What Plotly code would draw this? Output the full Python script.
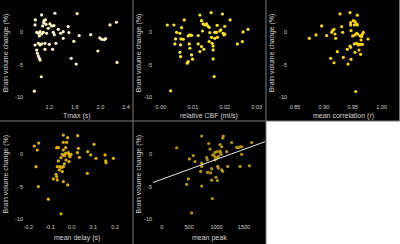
import plotly.graph_objects as go

# ---------------- data ----------------
tmax_x = [0.982, 0.977, 1.08, 1.288, 1.636, 1.117, 1.138, 1.112, 1.148, 1.096, 1.21, 1.236, 1.273, 1.184,
          1.003, 1.029, 1.055, 1.08, 1.044, 1.106, 1.158, 1.262, 1.278, 1.34, 1.377, 1.418, 1.496, 1.507,
          1.418, 1.668, 1.849, 0.977, 1.029, 1.055, 1.08, 1.132, 1.2, 1.304, 1.252, 1.132, 1.003, 1.013,
          1.029, 1.044, 1.055, 1.543, 1.621, 1.584, 1.99, 2.02, 2.06, 2.08, 1.96, 2.15, 2.25, 2.26, 1.075, 0.966]
tmax_y = [1.90, 1.13, 2.67, 2.92, 2.87, 1.79, 1.90, 1.49, 1.23, 0.97, 1.28, 0.97, 1.03, 0.62,
          0.0, -0.15, 0.10, -0.26, -0.56, 0.0, -0.15, 0.0, -0.36, 0.46, -0.15, 0.10, 0.87, -0.05,
          -0.92, -0.51, -0.36, -1.95, -1.69, -1.95, -1.79, -1.69, -1.85, -1.69, -2.62, -2.62, -2.72, -3.23,
          -3.64, -4.0, -4.26, -4.0, -4.87, -1.38, -0.87, -1.08, -1.13, -0.97, -2.87, 1.13, 1.54, -4.62, -6.82, -9.03]

cbf_x = [0.00198, 0.00406, 0.00729, 0.00646, 0.0049, 0.00594, 0.00458, 0.00625, 0.00438, 0.00615, 0.00698,
         0.00854, 0.00906, 0.00958, 0.00885, 0.00906, 0.00594, 0.00615, 0.00958, 0.0099, 0.00854, 0.00823,
         0.01219, 0.01573, 0.01927, 0.02167, 0.01271, 0.01323, 0.01375, 0.01427, 0.01469, 0.0176, 0.02,
         0.0151, 0.01167, 0.01302, 0.01531, 0.01583, 0.01688, 0.0174, 0.01844, 0.01875, 0.01948, 0.01979,
         0.02, 0.01688, 0.01604, 0.01635, 0.01635, 0.01167, 0.01271, 0.01219, 0.01344, 0.01635, 0.0151,
         0.02396, 0.02552, 0.02573, 0.02729, 0.01667, 0.00302, 0.01771]
cbf_y = [1.12, 1.12, 1.89, 0.71, 0.0, -0.15, -1.02, -1.02, -1.79, -1.94, -1.07,
         -0.56, -0.41, -0.46, -1.79, -2.45, -3.06, -3.72, -3.47, -4.13, -4.49, -4.74,
         2.65, 3.01, 2.81, 1.89, 1.79, 1.28, 1.12, 1.28, 0.97, 1.07, 0.92,
         0.77, -0.51, 0.2, -0.05, -0.77, 0.0, 0.0, 0.2, 0.36, -0.15, -0.41,
         -0.26, -0.92, -1.68, -2.09, -2.7, -1.79, -2.19, -2.96, -2.6, -4.08, -1.43,
         -1.79, -1.43, 0.05, 0.46, -6.79, -8.98, -0.77]

corr_x = [0.9279, 0.9452, 0.9578, 0.8961, 0.8863, 0.8748, 0.9048, 0.9152, 0.9175, 0.9134, 0.9192, 0.9204,
          0.9307, 0.9325, 0.9463, 0.9463, 0.9509, 0.9538, 0.9527, 0.9567, 0.9578, 0.9469, 0.9498, 0.9538,
          0.9567, 0.9584, 0.9625, 0.9682, 0.9665, 0.9653, 0.9763, 0.9642, 0.9636, 0.9567, 0.9596, 0.9613,
          0.9665, 0.9452, 0.9463, 0.9405, 0.9538, 0.9607, 0.9636, 0.9232, 0.9336, 0.9117, 0.9175, 0.9469,
          0.9417, 0.955, 0.9527]
corr_y = [2.82, 3.03, 2.62, 0.97, -0.41, -0.92, -0.51, 0.26, 0.46, 0.0, -0.26, -0.92,
          0.87, 0.0, 1.49, 1.13, 1.79, 1.64, 1.13, 1.28, 1.13, 0.26, -0.56, -0.41,
          -0.15, -0.26, -0.56, 0.0, -0.31, -0.67, -1.03, -1.18, -1.85, -1.69, -1.95, -1.85,
          -1.85, -2.10, -2.31, -2.62, -3.08, -2.72, -3.38, -2.97, -3.85, -4.0, -4.67, -4.15,
          -4.87, -9.08, -1.79]

delay_x = [-0.0385, 0.0277, -0.0185, -0.1523, -0.1723, -0.1585, -0.0385, -0.0231, -0.0692, -0.0615, -0.0277,
           0.0308, 0.1031, -0.0385, -0.0154, -0.0123, -0.0031, -0.0277, -0.0431, -0.0338, -0.0492, -0.0262,
           -0.0123, 0.0262, 0.0354, 0.0738, 0.0877, 0.1123, 0.1538, 0.1569, 0.1585, 0.1923, -0.0615, -0.0662,
           -0.0538, -0.0462, -0.0385, -0.0569, -0.0431, -0.0338, -0.1646, -0.0723, -0.0692, -0.0846, -0.0662,
           -0.0385, 0.0723, -0.0185, -0.1538, -0.1077, -0.0492, -0.0077]
delay_y = [2.99, 2.89, 2.58, 1.75, 1.29, 0.67, 1.86, 1.86, 1.03, 1.03, 1.03,
           0.93, 1.55, 0.67, 0.26, -0.10, 0.0, 0.15, 0.0, -0.21, -0.52, -0.88,
           -1.13, 0.26, -0.46, 0.41, -0.10, -0.62, -0.10, -1.03, -1.29, -0.62, -1.03, -1.91,
           -1.91, -2.06, -1.91, -2.42, -2.68, -1.49, -1.91, -3.09, -3.45, -3.81, -3.97,
           -4.23, -2.94, -4.74, -5.0, -6.96, -9.23, -0.36]

peak_x = [729, 1124, 1112, 273, 857, 1063, 1276, 1094, 1367, 1397, 1428, 1458, 1640, 577, 504, 608, 729,
          820, 832, 881, 930, 954, 978, 1015, 1033, 1015, 1063, 1075, 1081, 972, 1185, 1458, 972, 1021,
          1033, 1094, 1112, 1203, 911, 893, 729, 711, 838, 990, 1015, 911, 486, 456, 729, 923, 547, 1428, 1598]
peak_y = [2.84, 2.84, 2.54, 1.02, 1.68, 1.52, 1.83, 1.17, 1.07, 1.02, 1.17, 1.17, 1.83, -0.20, -0.71, -1.12, -1.37,
          -0.51, -0.86, 0.81, -0.10, -0.20, -0.51, -0.51, -0.36, 0.41, 0.51, 0.25, 0.0, 0.30, 0.41, 0.0, -0.86, -1.88,
          -2.13, -2.39, -2.64, -1.88, -2.23, -2.89, -1.88, -2.64, -2.79, -3.55, -4.06, -4.01, -3.81, -4.67, -4.92,
          -6.85, -9.09, -1.88, -1.78]
peak_fit_intercept = -3.88
peak_fit_slope = 0.0031

y_ticks = [0, -5, -10]
y_ticktext = ["0", "-5", "-10"]
y_title = "Brain volume change (%)"

# ---------------- layout helpers ----------------
W, H = 400, 244
def px(x):
    return x / W
def py(y):
    return 1 - y / H

panels = [
    dict(x=tmax_x, y=tmax_y, color="#FFF4C4", xpx=(24, 130), ypx=(2.96, 102.7), xr=(0.804, 2.463),
         yr=(-10.8, 4.5), tv=[1.2, 1.6, 2.0, 2.4], tt=["1.2", "1.6", "2.0", "2.4"], title="Tmax (s)",
         left=0, ttl_y=116),
    dict(x=cbf_x, y=cbf_y, color="#FFE619", xpx=(153, 264), ypx=(2.96, 102.7), xr=(-0.0025, 0.0323),
         yr=(-10.8, 4.5), tv=[0, 0.01, 0.02, 0.03], tt=["0.00", "0.01", "0.02", "0.03"],
         title="relative CBF (ml/s)", left=133, ttl_y=116),
    dict(x=corr_x, y=corr_y, color="#FFD500", xpx=(288, 398), ypx=(2.96, 102.7), xr=(0.8379, 1.0282),
         yr=(-10.8, 4.5), tv=[0.85, 0.9, 0.95, 1.0], tt=["0.85", "0.90", "0.95", "1.00"],
         title="mean correlation (r)", left=266, ttl_y=116),
    dict(x=delay_x, y=delay_y, color="#E0B200", xpx=(24, 130), ypx=(125.3, 222.7), xr=(-0.2198, 0.269),
         yr=(-10.6, 4.5), tv=[-0.2, -0.1, 0, 0.1, 0.2], tt=["-0.2", "-0.1", "0.0", "0.1", "0.2"],
         title="mean delay (s)", left=0, ttl_y=238),
    dict(x=peak_x, y=peak_y, color="#B8940C", xpx=(153, 265), ypx=(125.3, 222.7), xr=(-158.6, 1883),
         yr=(-10.6, 4.5), tv=[0, 500, 1000, 1500], tt=["0", "500", "1000", "1500"],
         title="mean peak", left=133, ttl_y=238),
]

fig = go.Figure()
annotations = []
tick_font = dict(family="Liberation Sans, Arial, sans-serif", size=5.5, color="#d0d0d0")
title_font = dict(family="Liberation Sans, Arial, sans-serif", size=7, color="#d4d4d4")

for i, p in enumerate(panels):
    n = "" if i == 0 else str(i + 1)
    fig.add_trace(go.Scatter(x=p["x"], y=p["y"], mode="markers", xaxis="x" + n, yaxis="y" + n,
                             marker=dict(color=p["color"], size=3.2, line=dict(width=0)),
                             showlegend=False, hoverinfo="skip"))
    common = dict(showgrid=False, zeroline=False, showline=False, ticks="", tickfont=tick_font)
    fig.layout["xaxis" + n] = dict(domain=[px(p["xpx"][0]), px(p["xpx"][1])], range=list(p["xr"]),
                                   anchor="y" + n, tickvals=p["tv"], ticktext=p["tt"], **common)
    fig.layout["yaxis" + n] = dict(domain=[py(p["ypx"][1]), py(p["ypx"][0])], range=list(p["yr"]),
                                   anchor="x" + n, tickvals=y_ticks, ticktext=y_ticktext, **common)
    cx = (p["xpx"][0] + p["xpx"][1]) / 2
    annotations.append(dict(text=p["title"], x=px(cx), y=py(p["ttl_y"]), xref="paper", yref="paper",
                            showarrow=False, font=title_font, xanchor="center", yanchor="middle",
                            textangle=-0.01))
    cy = (p["ypx"][0] + p["ypx"][1]) / 2
    annotations.append(dict(text=y_title, x=px(p["left"] + 5.5), y=py(cy), xref="paper", yref="paper",
                            showarrow=False, font=title_font, textangle=-90,
                            xanchor="center", yanchor="middle"))

# regression line for mean peak
xr5 = panels[4]["xr"]
fit_x = [xr5[0], xr5[1]]
fit_y = [peak_fit_intercept + peak_fit_slope * v for v in fit_x]
fig.add_trace(go.Scatter(x=fit_x, y=fit_y, mode="lines", xaxis="x5", yaxis="y5",
                         line=dict(color="#e8e8e8", width=1), showlegend=False, hoverinfo="skip"))

shapes = [
    dict(type="rect", xref="paper", yref="paper", x0=px(266), x1=1, y0=0, y1=py(121),
         fillcolor="white", line=dict(width=0), layer="above"),
    dict(type="line", xref="paper", yref="paper", x0=px(133), x1=px(133), y0=0, y1=1,
         line=dict(color="#7a7a7a", width=1), layer="above"),
    dict(type="line", xref="paper", yref="paper", x0=px(266), x1=px(266), y0=0, y1=1,
         line=dict(color="#7a7a7a", width=1), layer="above"),
    dict(type="line", xref="paper", yref="paper", x0=0, x1=1, y0=py(121), y1=py(121),
         line=dict(color="#7a7a7a", width=1), layer="above"),
    dict(type="line", xref="paper", yref="paper", x0=px(399.5), x1=px(399.5), y0=py(121), y1=1,
         line=dict(color="#7a7a7a", width=1), layer="above"),
]

fig.update_layout(width=W, height=H, margin=dict(l=0, r=0, t=0, b=0),
                  paper_bgcolor="black", plot_bgcolor="black",
                  annotations=annotations, shapes=shapes)

fig.write_html("out.html", config={"displayModeBar": False},
               post_script="document.body.style.margin='0';document.body.style.padding='0';")
